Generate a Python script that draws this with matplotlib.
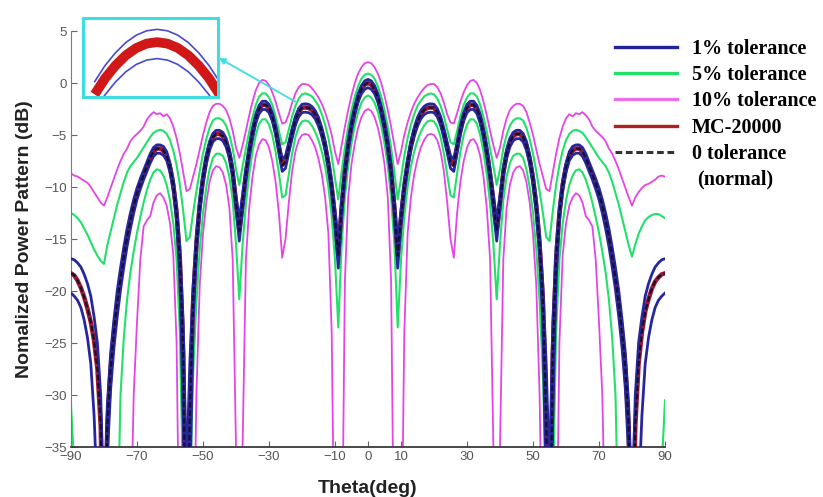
import matplotlib
matplotlib.use("Agg")
import matplotlib.pyplot as plt
from matplotlib.lines import Line2D

# ---------------- data ----------------
theta_deg = list(range(-90, 91))

nominal_db = [
    -18.3, -18.5, -19.0, -19.7, -20.6, -21.7, -23.0, -24.8, -27.5, -33.0,
    -50.0,
    -33.0, -27.5, -24.0, -21.2, -18.8, -16.7, -14.8, -13.2, -11.8, -10.6,
    -9.7, -8.8, -8.0, -7.2, -6.6, -6.3, -6.3, -6.5, -7.0, -8.1,
    -9.8, -12.5, -17.0, -26.0, -50.0, -32.0, -21.0, -15.5, -11.8, -9.2,
    -7.3, -6.0, -5.2, -4.9, -4.9, -5.1, -5.7, -6.8, -8.6, -11.5,
    -14.2, -11.5, -8.8, -6.6, -4.8, -3.4, -2.5, -2.1, -2.1, -2.4,
    -3.2, -4.5, -6.2, -7.9, -7.6, -6.2, -4.8, -3.6, -2.8, -2.4,
    -2.35, -2.4, -2.6, -3.0, -3.7, -4.7, -6.0, -7.8, -10.0, -13.0,
    -16.6, -12.0, -8.5, -6.0, -4.1, -2.6, -1.4, -0.6, -0.15,
    0.0, -0.15, -0.6, -1.4, -2.6, -4.1, -6.0, -8.5, -12.0, -16.6,
    -13.0, -10.0, -7.8, -6.0, -4.7, -3.7, -3.0, -2.6, -2.4, -2.35,
    -2.4, -2.8, -3.6, -4.8, -6.2, -7.6, -7.9, -6.2, -4.5, -3.2,
    -2.4, -2.1, -2.1, -2.5, -3.4, -4.8, -6.6, -8.8, -11.5, -14.2,
    -11.5, -8.6, -6.8, -5.7, -5.1, -4.9, -4.9, -5.2, -6.0, -7.3,
    -9.2, -11.8, -15.5, -21.0, -32.0, -50.0, -26.0, -17.0, -12.5, -9.8,
    -8.1, -7.0, -6.5, -6.3, -6.3, -6.6, -7.2, -8.0, -8.8, -9.7,
    -10.6, -11.8, -13.2, -14.8, -16.7, -18.8, -21.2, -24.0, -27.5, -33.0,
    -50.0, -33.0, -27.0, -24.0, -22.0, -20.8, -19.8, -19.1, -18.7, -18.4,
    -18.3]

# MC-20000 coincides with the nominal pattern in the picture
mc20000_db = list(nominal_db)

tol1_upper_db = [
    -16.9, -17.0, -17.3, -17.7, -18.4, -19.3, -20.5, -22.5, -25.0, -30.0,
    -42.0,
    -31.0, -26.0, -22.8, -20.0, -17.8, -15.8, -14.0, -12.5, -11.2, -10.1,
    -9.2, -8.4, -7.6, -6.8, -6.2, -5.95, -5.95, -6.1, -6.6, -7.7,
    -9.3, -11.8, -15.8, -23.0, -38.0, -27.0, -19.5, -14.5, -11.1, -8.7,
    -6.9, -5.6, -4.85, -4.55, -4.55, -4.75, -5.3, -6.4, -8.1, -10.8,
    -13.2, -10.7, -8.2, -6.1, -4.4, -3.0, -2.15, -1.75, -1.75, -2.05,
    -2.85, -4.1, -5.7, -7.3, -7.0, -5.7, -4.4, -3.2, -2.45, -2.05,
    -2.0, -2.05, -2.25, -2.65, -3.3, -4.3, -5.6, -7.3, -9.4, -12.2,
    -15.4, -11.2, -7.9, -5.5, -3.7, -2.25, -1.05, -0.25, 0.2,
    0.35, 0.2, -0.25, -1.05, -2.25, -3.7, -5.5, -7.9, -11.2, -15.4,
    -12.2, -9.4, -7.3, -5.6, -4.3, -3.3, -2.65, -2.25, -2.05, -2.0,
    -2.05, -2.45, -3.2, -4.4, -5.7, -7.0, -7.3, -5.7, -4.1, -2.85,
    -2.05, -1.75, -1.75, -2.15, -3.0, -4.4, -6.1, -8.2, -10.7, -13.2,
    -10.8, -8.1, -6.4, -5.3, -4.75, -4.55, -4.55, -4.85, -5.6, -6.9,
    -8.7, -11.1, -14.5, -19.5, -27.0, -38.0, -23.0, -15.8, -11.8, -9.3,
    -7.7, -6.6, -6.1, -5.95, -5.95, -6.2, -6.8, -7.6, -8.4, -9.2,
    -10.1, -11.2, -12.5, -14.0, -15.8, -17.8, -20.0, -22.8, -26.0, -31.0,
    -42.0, -30.0, -25.0, -22.5, -20.5, -19.3, -18.4, -17.7, -17.3, -17.0,
    -16.9]

tol1_lower_db = [
    -20.2, -20.5, -20.9, -21.6, -22.8, -24.5, -27.0, -32.0, -40.0, -50.0,
    -50.0,
    -36.0, -29.5, -25.5, -22.5, -19.9, -17.7, -15.7, -14.0, -12.5, -11.2,
    -10.2, -9.3, -8.5, -7.7, -7.05, -6.75, -6.75, -6.95, -7.45, -8.6,
    -10.4, -13.3, -19.0, -32.0, -50.0, -40.0, -23.0, -16.5, -12.5, -9.8,
    -7.8, -6.45, -5.65, -5.35, -5.35, -5.55, -6.15, -7.25, -9.1, -12.2,
    -15.2, -12.3, -9.4, -7.1, -5.3, -3.85, -2.95, -2.55, -2.55, -2.85,
    -3.65, -4.95, -6.7, -8.5, -8.2, -6.7, -5.3, -4.05, -3.25, -2.85,
    -2.8, -2.85, -3.05, -3.45, -4.15, -5.15, -6.45, -8.3, -10.6, -13.8,
    -17.8, -12.8, -9.1, -6.5, -4.55, -3.05, -1.85, -1.05, -0.6,
    -0.45, -0.6, -1.05, -1.85, -3.05, -4.55, -6.5, -9.1, -12.8, -17.8,
    -13.8, -10.6, -8.3, -6.45, -5.15, -4.15, -3.45, -3.05, -2.85, -2.8,
    -2.85, -3.25, -4.05, -5.3, -6.7, -8.2, -8.5, -6.7, -4.95, -3.65,
    -2.85, -2.55, -2.55, -2.95, -3.85, -5.3, -7.1, -9.4, -12.3, -15.2,
    -12.2, -9.1, -7.25, -6.15, -5.55, -5.35, -5.35, -5.65, -6.45, -7.8,
    -9.8, -12.5, -16.5, -23.0, -40.0, -50.0, -32.0, -19.0, -13.3, -10.4,
    -8.6, -7.45, -6.95, -6.75, -6.75, -7.05, -7.7, -8.5, -9.3, -10.2,
    -11.2, -12.5, -14.0, -15.7, -17.7, -19.9, -22.5, -25.5, -29.5, -36.0,
    -50.0, -50.0, -40.0, -32.0, -27.0, -24.5, -22.8, -21.6, -20.9, -20.5,
    -20.2]

tol5_upper_db = [
    -12.5, -12.7, -13.0, -13.4, -14.0, -14.6, -15.3, -16.0, -16.6, -17.1,
    -17.4,
    -15.6, -14.3, -13.0, -11.7, -10.6, -9.5, -8.6, -8.0, -7.6, -7.2,
    -6.7, -6.2, -5.7, -5.2, -4.8, -4.6, -4.5, -4.6, -4.9, -5.5,
    -6.5, -7.9, -9.8, -12.3, -15.2, -14.8, -12.5, -10.4, -8.5, -6.8,
    -5.4, -4.3, -3.6, -3.4, -3.4, -3.6, -4.1, -5.0, -6.3, -8.3,
    -9.8, -8.0, -6.3, -4.7, -3.3, -2.1, -1.3, -1.0, -1.0, -1.4,
    -2.1, -3.2, -4.6, -5.9, -5.7, -4.5, -3.2, -2.2, -1.5, -1.1,
    -1.0, -1.1, -1.3, -1.7, -2.2, -3.0, -4.0, -5.3, -7.0, -9.2,
    -11.2, -8.6, -6.2, -4.2, -2.6, -1.3, -0.3, 0.4, 0.8,
    0.9, 0.8, 0.4, -0.3, -1.3, -2.6, -4.2, -6.2, -8.6, -11.2,
    -9.2, -7.0, -5.3, -4.0, -3.0, -2.2, -1.7, -1.3, -1.1, -1.0,
    -1.1, -1.5, -2.2, -3.2, -4.5, -5.7, -5.9, -4.6, -3.2, -2.1,
    -1.4, -1.0, -1.0, -1.3, -2.1, -3.3, -4.7, -6.3, -8.0, -9.8,
    -8.3, -6.3, -5.0, -4.1, -3.6, -3.4, -3.4, -3.6, -4.3, -5.4,
    -6.8, -8.5, -10.4, -12.5, -14.8, -15.2, -12.3, -9.8, -7.9, -6.5,
    -5.5, -4.9, -4.6, -4.5, -4.6, -4.8, -5.2, -5.7, -6.2, -6.7,
    -7.2, -7.6, -8.0, -8.6, -9.5, -10.6, -11.7, -13.0, -14.3, -15.6,
    -16.7, -15.5, -14.5, -13.8, -13.2, -12.9, -12.7, -12.6, -12.6, -12.8,
    -13.0]

tol5_lower_db = [
    -31.0, -37.0, -50.0, -50.0, -50.0, -50.0, -50.0, -50.0, -50.0, -50.0,
    -50.0,
    -50.0, -50.0, -50.0, -45.0, -30.0, -24.5, -20.8, -18.2, -16.2, -14.4,
    -12.9, -11.5, -10.3, -9.3, -8.6, -8.3, -8.4, -8.9, -9.8, -11.3,
    -13.5, -17.0, -24.0, -40.0, -50.0, -40.0, -28.0, -21.0, -16.0, -12.5,
    -10.0, -8.3, -7.2, -6.8, -6.8, -7.0, -7.7, -9.0, -11.3, -15.5,
    -20.8, -15.5, -11.6, -8.8, -6.6, -5.0, -3.9, -3.5, -3.5, -4.0,
    -5.0, -6.6, -8.7, -11.0, -10.8, -8.8, -6.8, -5.2, -4.2, -3.7,
    -3.6, -3.7, -4.1, -4.7, -5.5, -6.6, -8.0, -10.0, -12.8, -17.0,
    -23.5, -15.5, -11.0, -8.0, -5.8, -4.1, -2.8, -1.9, -1.4,
    -1.2, -1.4, -1.9, -2.8, -4.1, -5.8, -8.0, -11.0, -15.5, -23.5,
    -17.0, -12.8, -10.0, -8.0, -6.6, -5.5, -4.7, -4.1, -3.7, -3.6,
    -3.7, -4.2, -5.2, -6.8, -8.8, -10.8, -11.0, -8.7, -6.6, -5.0,
    -4.0, -3.5, -3.5, -3.9, -5.0, -6.6, -8.8, -11.6, -15.5, -20.8,
    -15.5, -11.3, -9.0, -7.7, -7.0, -6.8, -6.8, -7.2, -8.3, -10.0,
    -12.5, -16.0, -21.0, -28.0, -40.0, -50.0, -40.0, -24.0, -17.0, -13.5,
    -11.3, -9.8, -8.9, -8.4, -8.3, -8.6, -9.3, -10.3, -11.5, -12.9,
    -14.4, -16.2, -18.2, -20.8, -24.5, -30.0, -45.0, -50.0, -50.0, -50.0,
    -50.0, -50.0, -50.0, -50.0, -50.0, -50.0, -50.0, -50.0, -50.0, -37.0,
    -30.5]

tol10_upper_db = [
    -8.7, -8.9, -9.0, -9.2, -9.4, -9.6, -10.0, -10.5, -11.0, -11.5,
    -11.8,
    -11.0, -10.1, -9.2, -8.3, -7.5, -6.8, -6.3, -5.6, -5.2, -4.9,
    -4.6, -4.2, -3.5, -3.1, -2.8, -3.0, -2.9, -3.2, -3.0, -3.4,
    -4.2, -5.3, -6.8, -8.6, -10.4, -10.2, -9.0, -7.8, -6.4, -5.0,
    -3.8, -2.8, -2.2, -2.0, -2.0, -2.2, -2.6, -3.4, -4.6, -6.2,
    -7.2, -6.0, -4.6, -3.1, -1.8, -0.7, 0.0, 0.3, 0.2, -0.2,
    -0.9, -1.8, -2.9, -3.9, -3.8, -3.0, -1.9, -1.0, -0.4, -0.1,
    -0.1, -0.2, -0.5, -0.9, -1.4, -2.0, -2.8, -3.8, -5.0, -6.6,
    -7.8, -6.0, -4.2, -2.6, -1.2, 0.0, 0.9, 1.5, 1.9,
    2.0, 1.9, 1.5, 0.9, 0.0, -1.2, -2.6, -4.2, -6.0, -7.8,
    -6.6, -5.0, -3.8, -2.8, -2.0, -1.4, -0.9, -0.5, -0.2, -0.1,
    -0.1, -0.4, -1.0, -1.9, -3.0, -3.8, -3.9, -2.9, -1.8, -0.9,
    -0.2, 0.2, 0.3, 0.0, -0.7, -1.8, -3.1, -4.6, -6.0, -7.2,
    -6.2, -4.6, -3.4, -2.6, -2.2, -2.0, -2.0, -2.2, -2.8, -3.8,
    -5.0, -6.4, -7.8, -9.0, -10.2, -10.4, -8.6, -6.8, -5.3, -4.2,
    -3.4, -3.0, -3.2, -2.9, -3.0, -2.8, -3.1, -3.5, -4.2, -4.6,
    -4.9, -5.2, -5.6, -6.3, -6.8, -7.5, -8.3, -9.2, -10.1, -11.0,
    -11.8, -11.0, -10.5, -10.1, -9.8, -9.7, -9.5, -9.3, -9.0, -8.9,
    -9.0]

tol10_lower_db = [
    -50.0, -50.0, -50.0, -50.0, -50.0, -50.0, -50.0, -50.0, -50.0, -50.0,
    -50.0,
    -50.0, -50.0, -50.0, -50.0, -50.0, -50.0, -50.0, -45.0, -30.0, -23.0,
    -17.0, -13.8, -13.2, -12.8, -11.5, -10.8, -10.6, -11.0, -11.8, -13.5,
    -16.5, -25.0, -50.0, -50.0, -50.0, -50.0, -50.0, -30.0, -19.5, -14.5,
    -11.5, -9.5, -8.4, -8.0, -8.1, -8.6, -9.8, -12.0, -17.0, -35.0,
    -50.0, -35.0, -17.0, -12.0, -9.0, -7.0, -5.9, -5.4, -5.5, -6.2,
    -7.5, -9.5, -12.5, -16.8, -15.0, -11.5, -8.5, -6.6, -5.5, -5.0,
    -4.9, -5.0, -5.5, -6.2, -7.3, -8.8, -11.0, -14.5, -24.0, -50.0,
    -50.0, -50.0, -19.0, -11.0, -7.8, -5.8, -4.3, -3.3, -2.7,
    -2.5, -2.7, -3.3, -4.3, -5.8, -7.8, -11.0, -19.0, -50.0, -50.0,
    -50.0, -24.0, -14.5, -11.0, -8.8, -7.3, -6.2, -5.5, -5.0, -4.9,
    -5.0, -5.5, -6.6, -8.5, -11.5, -15.0, -16.8, -12.5, -9.5, -7.5,
    -6.2, -5.5, -5.4, -5.9, -7.0, -9.0, -12.0, -17.0, -35.0, -50.0,
    -35.0, -17.0, -12.0, -9.8, -8.6, -8.1, -8.0, -8.4, -9.5, -11.5,
    -14.5, -19.5, -30.0, -50.0, -50.0, -50.0, -50.0, -50.0, -25.0, -16.5,
    -13.5, -11.8, -11.0, -10.6, -10.8, -11.5, -12.8, -13.2, -13.8, -17.0,
    -23.0, -30.0, -45.0, -50.0, -50.0, -50.0, -50.0, -50.0, -50.0, -50.0,
    -50.0, -50.0, -50.0, -50.0, -50.0, -50.0, -50.0, -50.0, -50.0, -50.0,
    -50.0]

# zoomed view (inset) around the -19.5 deg side lobe
inset_theta = [-22.5, -22.0, -21.5, -21.0, -20.5, -20.0, -19.5,
               -19.0, -18.5, -18.0, -17.5, -17.0, -16.5]
inset_mc_db = [-3.78, -3.34, -2.99, -2.71, -2.51, -2.39, -2.35,
               -2.39, -2.51, -2.71, -2.99, -3.34, -3.78]
inset_up_db = [-3.43, -2.99, -2.64, -2.36, -2.16, -2.04, -2.00,
               -2.04, -2.16, -2.36, -2.64, -2.99, -3.43]
inset_lo_db = [-4.23, -3.79, -3.44, -3.16, -2.96, -2.84, -2.80,
               -2.84, -2.96, -3.16, -3.44, -3.79, -4.23]

x_ticks = [-90, -70, -50, -30, -10, 0, 10, 30, 50, 70, 90]
y_ticks = [5, 0, -5, -10, -15, -20, -25, -30, -35]
legend_labels = ["1% tolerance", "5% tolerance", "10% tolerance",
                 "MC-20000", "0 tolerance"]

for arr in (nominal_db, tol1_upper_db, tol1_lower_db, tol5_upper_db,
            tol5_lower_db, tol10_upper_db, tol10_lower_db):
    assert len(arr) == len(theta_deg), len(arr)

# ---------------- styling ----------------
C_BLUE = "#26269e"
C_GREEN = "#22e06a"
C_MAG = "#e445e4"
C_RED = "#a01830"
C_CYAN = "#3fdede"

W, H = 823, 497
fig = plt.figure(figsize=(W / 100, H / 100), dpi=100)
ax = fig.add_axes([71 / W, 50 / H, 594 / W, 416 / H])

ax.plot(theta_deg, tol10_upper_db, color=C_MAG, lw=1.3, zorder=2)
ax.plot(theta_deg, tol10_lower_db, color=C_MAG, lw=1.3, zorder=2)
ax.plot(theta_deg, tol5_upper_db, color=C_GREEN, lw=1.5, zorder=2.2)
ax.plot(theta_deg, tol5_lower_db, color=C_GREEN, lw=1.5, zorder=2.2)
ax.plot(theta_deg, mc20000_db, color=C_RED, lw=3.2, zorder=3)
ax.plot(theta_deg, tol1_upper_db, color=C_BLUE, lw=2.0, zorder=3.5)
ax.plot(theta_deg, tol1_lower_db, color=C_BLUE, lw=2.0, zorder=3.5)
ax.plot(theta_deg, nominal_db, color="#151030", lw=1.6, ls=(0, (2.5, 1.2)), zorder=4)

ax.set_xlim(-90, 90)
ax.set_ylim(-35, 5)
ax.set_xticks(x_ticks)
ax.set_yticks(y_ticks)
for s in ("top", "right"):
    ax.spines[s].set_visible(False)
ax.spines["left"].set_color("#7a7a7a")
ax.spines["bottom"].set_color("#3a3a3a")
ax.spines["bottom"].set_linewidth(1.3)
ax.tick_params(direction="in", length=4, width=0.8, colors="#666666",
               labelsize=9.5, pad=3)
for lab in ax.get_xticklabels() + ax.get_yticklabels():
    lab.set_family("Liberation Sans")
    lab.set_color("#555555")

ax.set_xlabel("Theta(deg)", fontsize=14, fontweight="bold",
              family="Liberation Sans", color="#222222", labelpad=12)
ax.set_ylabel("Nomalized Power Pattern (dB)", fontsize=14, fontweight="bold",
              family="Liberation Sans", color="#222222", labelpad=8)

# legend
handles = [
    Line2D([], [], color="#22229a", lw=2.4),
    Line2D([], [], color=C_GREEN, lw=2.4),
    Line2D([], [], color="#ea70ea", lw=2.4),
    Line2D([], [], color="#b02020", lw=2.4),
    Line2D([], [], color="#333333", lw=2.2, ls=(0, (2.2, 1.2))),
]
leg = fig.legend(handles, legend_labels, loc="upper left",
                 bbox_to_anchor=(615 / W, 1 - 39 / H),
                 frameon=False, borderpad=0, borderaxespad=0,
                 handlelength=3.1, handletextpad=0.72, labelspacing=0.31,
                 prop={"family": "Liberation Serif", "weight": "bold",
                       "size": 14.5})
fig.text(697 / W, 1 - 179 / H, "(normal)", ha="left", va="center",
         family="Liberation Serif", fontweight="bold", fontsize=14.5)

# inset zoom
axin = fig.add_axes([83 / W, 1 - 97 / H, 135 / W, 79 / H])
axin.plot(inset_theta, inset_mc_db, color="#d01818", lw=7, solid_capstyle="butt")
axin.plot(inset_theta, inset_up_db, color="#4a4ad0", lw=1.2)
axin.plot(inset_theta, inset_lo_db, color="#4a4ad0", lw=1.2)
axin.set_xlim(-23.06, -16.57)
axin.set_ylim(-3.85, -1.69)
axin.set_xticks([])
axin.set_yticks([])
for s in axin.spines.values():
    s.set_color(C_CYAN)
    s.set_linewidth(2.2)

ax.annotate("", xy=(219 / W, 1 - 58 / H), xycoords="figure fraction",
            xytext=(-22.0, -1.8), textcoords="data",
            arrowprops=dict(arrowstyle="-|>", color=C_CYAN, lw=1.3,
                            mutation_scale=9, shrinkA=0, shrinkB=0),
            zorder=6)

fig.savefig("out.png", dpi=100)
